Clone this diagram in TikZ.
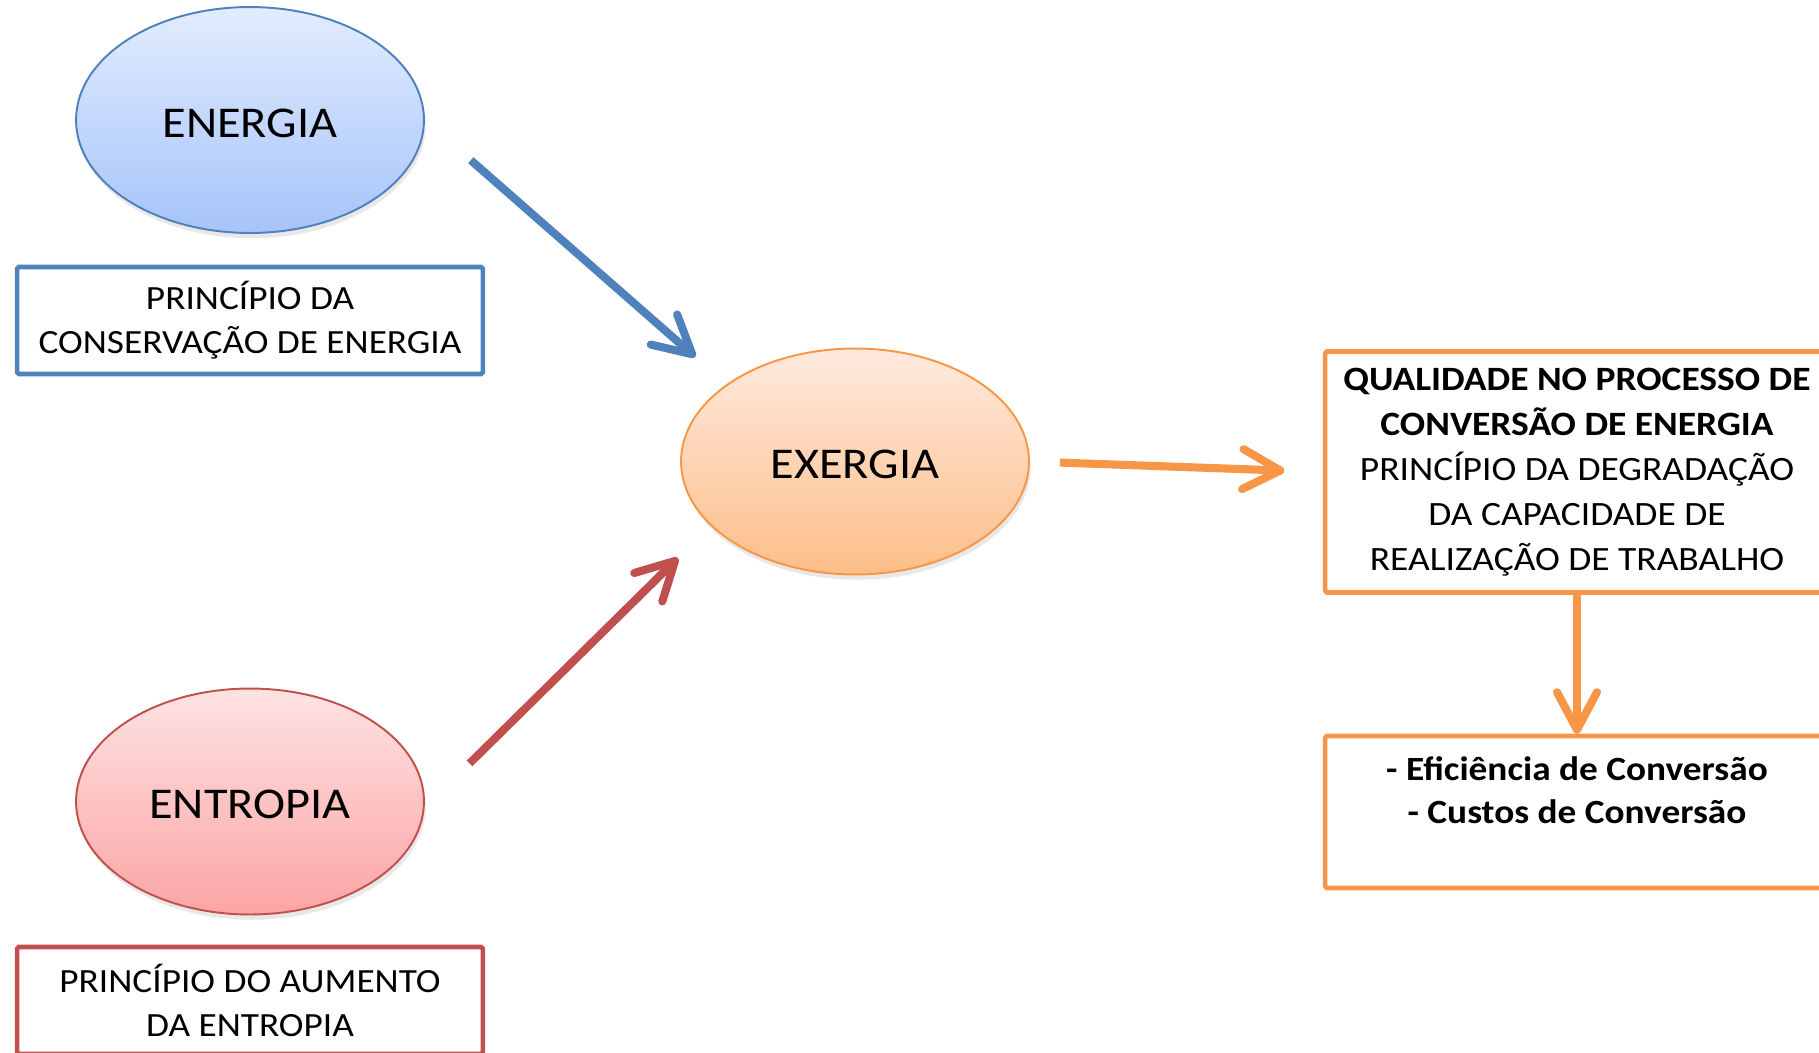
\documentclass[tikz,border=0pt]{standalone}
\usepackage{fontspec}
\setmainfont{Carlito}[FakeStretch=1.1]
\usetikzlibrary{shapes.geometric,arrows.meta,shadows}
\definecolor{enblue}{HTML}{4F81BD}
\definecolor{enred}{HTML}{C0504D}
\definecolor{exorange}{HTML}{F79646}
\definecolor{bluetop}{HTML}{E2ECFE}
\definecolor{bluebot}{HTML}{A6C4FA}
\definecolor{redtop}{HTML}{FEE3E3}
\definecolor{redbot}{HTML}{FBA4A4}
\definecolor{orangetop}{HTML}{FEEADE}
\definecolor{orangebot}{HTML}{FDBE88}
\begin{document}
\begin{tikzpicture}[x=0.02cm,y=-0.02cm,
    oval/.style={shape=ellipse,line width=1.1pt,minimum width=6.96cm,minimum height=4.52cm,inner sep=0pt,
        font=\fontsize{25}{29}\selectfont,text height=19.8pt,text depth=0pt,
        drop shadow={opacity=0.18,shadow xshift=1pt,shadow yshift=-3pt}},
    lawbox/.style={shape=rectangle,line width=2.6pt,rounded corners=1pt,fill=white,minimum width=9.32cm,
        minimum height=2.14cm,inner sep=0pt,align=center,font=\fontsize{19.3}{25}\selectfont},
    convbox/.style={shape=rectangle,draw=exorange,line width=2.6pt,rounded corners=1pt,fill=white,
        minimum width=10.08cm,inner sep=0pt,align=center},
    flow/.style={line width=4.6pt,-{Straight Barb[length=0.75cm,width=0.8cm,round]}}]
  \useasboundingbox (0,0) rectangle (1819,1052);
  \clip (0,0) rectangle (1819,1052);

  % left column
  \node[oval,draw=enblue,top color=bluetop,bottom color=bluebot] (energia) at (250,120) {ENERGIA};
  \node[lawbox,draw=enblue] (conserva) at (250,320.5) {PRINCÍPIO DA\\CONSERVAÇÃO DE ENERGIA};
  \node[oval,draw=enred,top color=redtop,bottom color=redbot] (entropia) at (250,801.5) {ENTROPIA};
  \node[lawbox,draw=enred] (aumento) at (250,1000.5) {PRINCÍPIO DO AUMENTO\\DA ENTROPIA};

  % middle and right
  \node[oval,draw=exorange,top color=orangetop,bottom color=orangebot] (exergia) at (855,461.5) {EXERGIA};
  \node[convbox,minimum height=4.82cm,font=\fontsize{19.4}{25.6}\selectfont] (qualidade) at (1577,472)
    {\textbf{QUALIDADE NO PROCESSO DE}\\\textbf{CONVERSÃO DE ENERGIA}\\PRINCÍPIO DA DEGRADAÇÃO\\DA CAPACIDADE DE\\REALIZAÇÃO DE TRABALHO};
  \node[convbox,minimum height=3.04cm,font=\fontsize{19.3}{24.5}\selectfont\bfseries] (eficiencia) at (1577,812)
    {- Eficiência de Conversão\\- Custos de Conversão\\\mbox{}};

  \path (energia.east) edge[flow,draw=enblue,shorten <=1.22cm,shorten >=0.83cm] (exergia.149);
  \path (entropia.-2) edge[flow,draw=enred,shorten <=1.26cm,shorten >=0.92cm] (exergia.204);
  \path (exergia.east) edge[flow,draw=exorange,shorten <=0.6cm,shorten >=0.77cm] (qualidade.west);
  \path (qualidade.south) edge[flow,draw=exorange] (eficiencia.north);
\end{tikzpicture}
\end{document}
